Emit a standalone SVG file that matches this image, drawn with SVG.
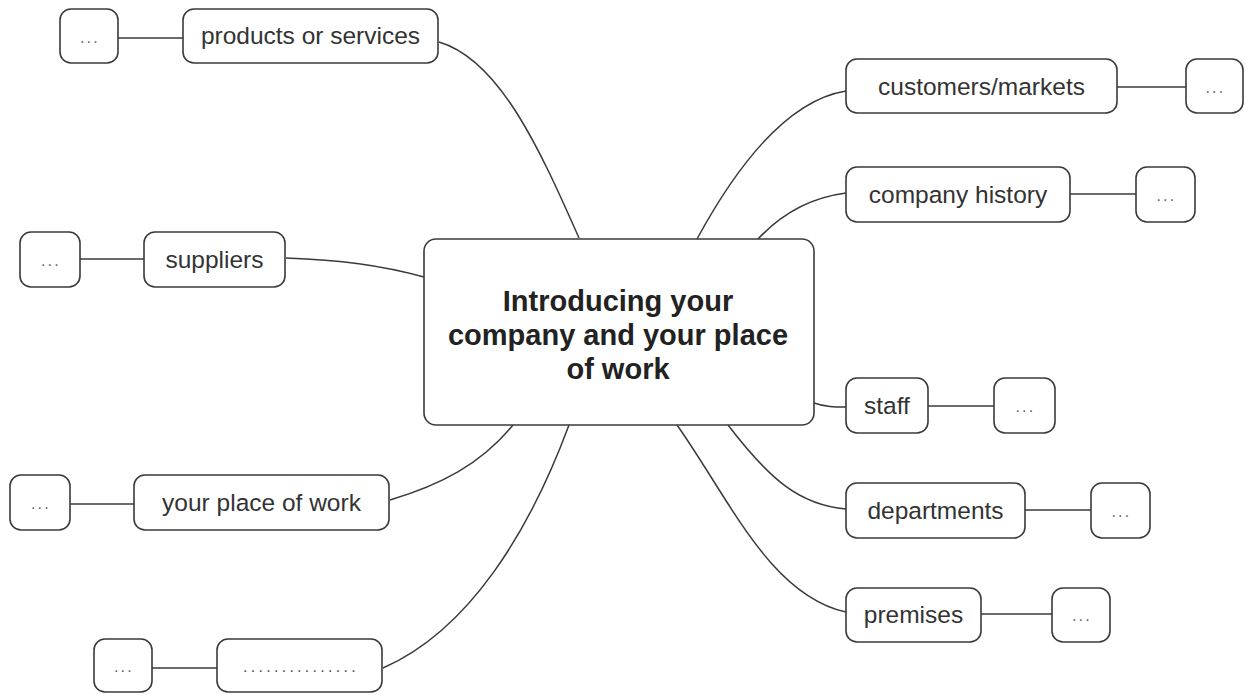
<svg xmlns="http://www.w3.org/2000/svg" width="1245" height="695" viewBox="0 0 1245 695">
<style>
.box{fill:#fff;stroke:#3a3a3a;stroke-width:1.6}
.lbl{font-family:"Liberation Sans",Arial,sans-serif;font-size:24.5px;fill:#333;text-anchor:middle}
.dots{font-family:"Liberation Sans",Arial,sans-serif;font-size:16px;fill:#666;text-anchor:middle;letter-spacing:2.3px}
.fill{letter-spacing:3.3px;fill:#555}
.title{font-family:"Liberation Sans",Arial,sans-serif;font-size:29px;font-weight:bold;fill:#222;text-anchor:middle}
.conn path,.conn line{fill:none;stroke:#3a3a3a;stroke-width:1.5}
</style>
<rect width="1245" height="695" fill="#fff"/>
<g id="connectors" class="conn">
<path d="M439,42 C500,60 540,150 579,238"/>
<path d="M286,258 C340,260 380,265 424,277"/>
<path d="M390,500 C440,485 480,465 513,425"/>
<path d="M383,668 C470,630 530,530 569,425"/>
<path d="M697,239 C740,160 790,100 846,91"/>
<path d="M758,239 C785,210 815,197 846,193"/>
<path d="M814,403 C825,407 835,407 846,407"/>
<path d="M728,425 C770,480 800,505 846,509"/>
<path d="M677,425 C730,500 770,595 846,612"/>
<line x1="118" y1="38" x2="183" y2="38"/>
<line x1="80" y1="259" x2="144" y2="259"/>
<line x1="70" y1="504" x2="134" y2="504"/>
<line x1="152" y1="668" x2="217" y2="668"/>
<line x1="1117" y1="87" x2="1186" y2="87"/>
<line x1="1070" y1="194" x2="1136" y2="194"/>
<line x1="928" y1="406" x2="994" y2="406"/>
<line x1="1025" y1="510" x2="1091" y2="510"/>
<line x1="981" y1="614" x2="1052" y2="614"/>
</g>
<g id="center">
<rect class="box" x="424" y="239" width="390" height="186" rx="12"/>
<text class="title" x="618" y="311">Introducing your</text>
<text class="title" x="618" y="345">company and your place</text>
<text class="title" x="618" y="379">of work</text>
</g>
<g id="products"><rect class="box" x="183" y="9" width="255" height="54" rx="11"/><text class="lbl" x="310.5" y="44">products or services</text></g>
<g id="products-more"><rect class="box" x="60" y="9" width="58" height="54" rx="11"/><text class="dots" x="90" y="43">...</text></g>
<g id="suppliers"><rect class="box" x="144" y="232" width="141" height="55" rx="11"/><text class="lbl" x="214.5" y="268">suppliers</text></g>
<g id="suppliers-more"><rect class="box" x="20" y="232" width="60" height="55" rx="11"/><text class="dots" x="51" y="266">...</text></g>
<g id="place"><rect class="box" x="134" y="475" width="255" height="55" rx="11"/><text class="lbl" x="261.5" y="511">your place of work</text></g>
<g id="place-more"><rect class="box" x="10" y="475" width="60" height="55" rx="11"/><text class="dots" x="41" y="509">...</text></g>
<g id="blank"><rect class="box" x="217" y="639" width="165" height="53" rx="11"/><text class="dots fill" x="301" y="672">...............</text></g>
<g id="blank-more"><rect class="box" x="94" y="639" width="58" height="53" rx="11"/><text class="dots" x="124" y="672">...</text></g>
<g id="customers"><rect class="box" x="846" y="59" width="271" height="54" rx="11"/><text class="lbl" x="981.5" y="95">customers/markets</text></g>
<g id="customers-more"><rect class="box" x="1186" y="59" width="57" height="54" rx="11"/><text class="dots" x="1215.5" y="93">...</text></g>
<g id="history"><rect class="box" x="846" y="167" width="224" height="55" rx="11"/><text class="lbl" x="958" y="203">company history</text></g>
<g id="history-more"><rect class="box" x="1136" y="167" width="59" height="55" rx="11"/><text class="dots" x="1166.5" y="201">...</text></g>
<g id="staff"><rect class="box" x="846" y="378" width="82" height="55" rx="11"/><text class="lbl" x="887" y="414">staff</text></g>
<g id="staff-more"><rect class="box" x="994" y="378" width="61" height="55" rx="11"/><text class="dots" x="1025.5" y="412">...</text></g>
<g id="departments"><rect class="box" x="846" y="483" width="179" height="55" rx="11"/><text class="lbl" x="935.5" y="519">departments</text></g>
<g id="departments-more"><rect class="box" x="1091" y="483" width="59" height="55" rx="11"/><text class="dots" x="1121.5" y="517">...</text></g>
<g id="premises"><rect class="box" x="846" y="588" width="135" height="54" rx="11"/><text class="lbl" x="913.5" y="623">premises</text></g>
<g id="premises-more"><rect class="box" x="1052" y="588" width="58" height="54" rx="11"/><text class="dots" x="1082" y="621">...</text></g>
</svg>
